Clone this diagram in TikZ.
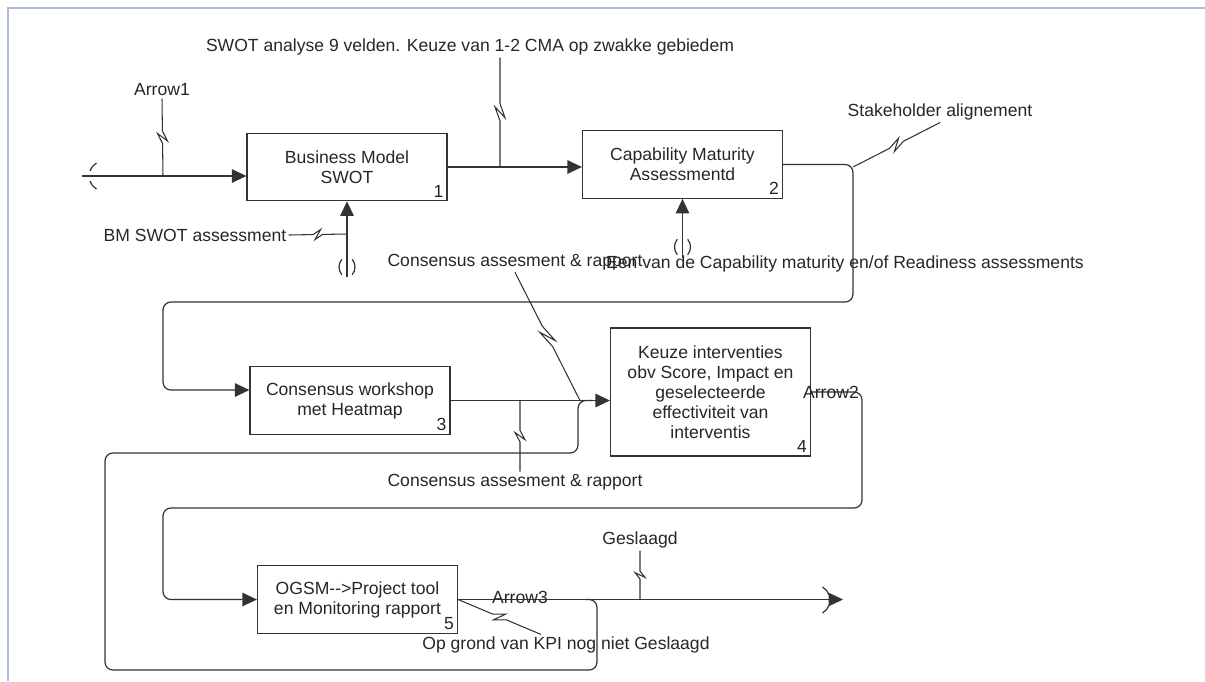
\documentclass[tikz,border=0pt]{standalone}
\usepackage{fontspec}
\setmainfont{Liberation Sans}
\usetikzlibrary{arrows.meta,calc}

\newcommand{\dfont}{\fontsize{10}{11.4}\selectfont}

\tikzset{
  proc/.style={draw=black!80,minimum width=4cm,minimum height=1.35cm,
    align=center,inner sep=1pt},
  num/.style={anchor=south east,inner sep=2pt},
  lbl/.style={inner sep=1pt},
  feed/.style={->,rounded corners=4.5pt},
  squiggle/.style={line width=0.6pt,to path={
    -- ($(\tikztostart)!0.42!(\tikztotarget)$)
    -- ($(\tikztostart)!0.55!(\tikztotarget)!0.1cm!90:(\tikztotarget)$)
    -- ($(\tikztostart)!0.45!(\tikztotarget)!0.1cm!-90:(\tikztotarget)$)
    -- ($(\tikztostart)!0.58!(\tikztotarget)$)
    -- (\tikztotarget)}},
  frame/.style={line width=1.6pt,draw={rgb,255:red,172;green,186;blue,226}}
}

\begin{document}
\begin{tikzpicture}[x=0.02cm,y=-0.02cm,line width=0.7pt,draw=black!80,
    text=black!85,font=\dfont,>={Triangle[length=2.9mm,width=2.7mm]}]

  \useasboundingbox (0,0) rectangle (1205,681);
  \draw[frame] (8,681) -- (8,8) -- (1205,8);

  % activities
  \node[proc]                          (swot)  at (347,167)   {Business Model\\SWOT};
  \node[proc]                          (cma)   at (682.5,164.5) {Capability Maturity\\Assessmentd};
  \node[proc]                          (heat)  at (350,400.5) {Consensus workshop\\met Heatmap};
  \node[proc,minimum height=2.56cm]    (keuze) at (710.5,392) {Keuze interventies\\obv Score, Impact en\\geselecteerde\\effectiviteit van\\interventis};
  \node[proc]                          (ogsm)  at (357.5,599.5) {OGSM-{}-{}>Project tool\\en Monitoring rapport};

  \node[num] (n1) at (swot.south east)  {1};
  \node[num] (n2) at (cma.south east)   {2};
  \node[num] (n3) at (heat.south east)  {3};
  \node[num] (n4) at (keuze.south east) {4};
  \node[num] (n5) at (ogsm.south east)  {5};

  % labels
  \node[lbl] (lA1)    at (162,90)  {Arrow1};
  \node[lbl] (lswot)  at (470,47)  {SWOT analyse 9 velden. Keuze van 1-2 CMA op zwakke gebiedem};
  \node[lbl] (lbm)    at (195,235) {BM SWOT assessment};
  \node[lbl] (lstake) at (940,112) {Stakeholder alignement};
  \node[lbl] (lcons1) at (515,262) {Consensus assesment \& rapport};
  \node[lbl] (leen)   at (845,264) {Een van de Capability maturity en/of Readiness assessments};
  \node[lbl] (lcons2) at (515,482) {Consensus assesment \& rapport};
  \node[lbl] (lgesl)  at (640,540) {Geslaagd};
  \node[lbl] (lkpi)   at (566,645) {Op grond van KPI nog niet Geslaagd};

  % points
  \coordinate (in1)  at (82,176);
  \coordinate (tin)  at (104,176);
  \coordinate (ctl1) at (347,277);
  \coordinate (ctl2) at (682.5,258);
  \coordinate (b23)  at (853,302);
  \coordinate (j3)   at (163,390);
  \coordinate (b45)  at (862,508);
  \coordinate (out5) at (843,600);
  \coordinate (tout) at (815,600);
  \coordinate (fb0)  at (585,599.5);
  \coordinate (fbA)  at (597,670);
  \coordinate (fbB)  at (105,453);
  \coordinate (fbC)  at (578,400.5);
  \coordinate (fbD)  at (592,400.5);

  % arrows
  \draw[->] (in1) -- (in1 -| swot.west);
  \draw[->] (swot.east) -- (swot.east -| cma.west);
  \draw[->] (ctl1) -- (swot.south);
  \draw[->] (ctl2) -- (cma.south);
  \draw[feed] (cma.east) -| (b23) -| (j3) -- (j3 -| heat.west);
  \draw[->] (heat.east) -- (heat.east -| keuze.west);
  \draw[feed] (keuze.east) -| (b45) -| (ogsm.west -| j3) -- (ogsm.west);
  \draw[->] (ogsm.east) -- (ogsm.east -| out5);
  \draw[rounded corners=4.5pt] (fb0) -| (fbA) -| (fbB) -| (fbC) -- (fbD);

  \node[lbl] (lA2) at (831,392) {Arrow2};
  \node[lbl] (lA3) at (520,597) {Arrow3};

  % tunnels
  \draw (tin) ++(120:0.3cm) arc[start angle=120,end angle=160,radius=0.3cm];
  \draw (tin) ++(200:0.3cm) arc[start angle=200,end angle=240,radius=0.3cm];
  \draw (tout) ++(20:0.3cm) arc[start angle=20,end angle=60,radius=0.3cm];
  \draw (tout) ++(-20:0.3cm) arc[start angle=-20,end angle=-60,radius=0.3cm];
  \draw (351,267) ++(140:0.24cm) arc[start angle=140,end angle=220,radius=0.24cm];
  \draw (343,267) ++(40:0.24cm) arc[start angle=40,end angle=-40,radius=0.24cm];
  \draw (686.5,247) ++(140:0.24cm) arc[start angle=140,end angle=220,radius=0.24cm];
  \draw (678.5,247) ++(40:0.24cm) arc[start angle=40,end angle=-40,radius=0.24cm];

  % squiggles
  \coordinate (q1) at (163,176);
  \coordinate (q2) at (500,167);
  \coordinate (q3) at (347,234);
  \coordinate (q4) at (853,167);
  \coordinate (q5) at (580,400.5);
  \coordinate (q6) at (520,400.5);
  \coordinate (q7) at (640,599.5);
  \coordinate (q8) at ($(lkpi.north)+(-25,0)$);
  \draw[squiggle] (lA1.south) to (q1);
  \draw[squiggle] (lswot.south -| q2) to (q2);
  \draw[squiggle] (lbm.east) to (q3);
  \draw[squiggle] (lstake.south) to (q4);
  \draw[squiggle] (lcons1.south) to (q5);
  \draw[squiggle] (lcons2.north -| q6) to (q6);
  \draw[squiggle] (lgesl.south) to (q7);
  \draw[squiggle] (q8) to (ogsm.east);
\end{tikzpicture}
\end{document}
